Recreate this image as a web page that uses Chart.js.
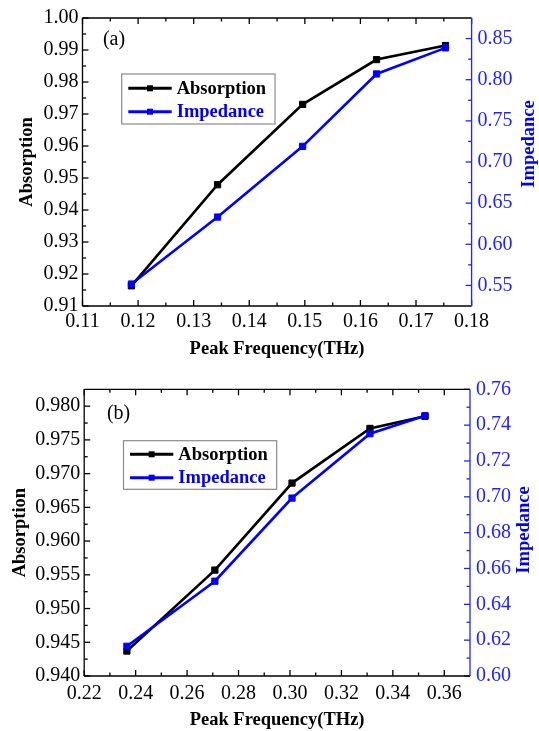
<!DOCTYPE html>
<html>
<head>
<meta charset="utf-8">
<script src="https://cdn.jsdelivr.net/npm/chart.js@4/dist/chart.umd.min.js"></script>
<style>
  html, body { margin: 0; padding: 0; background: #fff; }
  #wrap { position: relative; width: 539px; height: 731px; }
  .panel { position: absolute; left: 0; width: 539px; }
</style>
</head>
<body>
<div id="wrap">
  <div class="panel" style="top:0;height:366px"><canvas id="chartA"></canvas></div>
  <div class="panel" style="top:366px;height:365px"><canvas id="chartB"></canvas></div>
</div>
<script>
// ---- Panel (a) ----
const freqA       = [0.1188, 0.1343, 0.1496, 0.1629, 0.1753];
const absorptionA = [0.9163, 0.9479, 0.9730, 0.9870, 0.9914];
const impedanceA  = [0.5517, 0.6331, 0.7190, 0.8070, 0.8387];
const xTicksA     = [0.11, 0.12, 0.13, 0.14, 0.15, 0.16, 0.17, 0.18];
const absTicksA   = [0.91, 0.92, 0.93, 0.94, 0.95, 0.96, 0.97, 0.98, 0.99, 1.00];
const impTicksA   = [0.55, 0.60, 0.65, 0.70, 0.75, 0.80, 0.85];

// ---- Panel (b) ----
const freqB       = [0.2366, 0.2708, 0.3008, 0.3311, 0.3525];
const absorptionB = [0.9437, 0.9557, 0.9686, 0.9767, 0.9785];
const impedanceB  = [0.6166, 0.6529, 0.6993, 0.7352, 0.7453];
const xTicksB     = [0.22, 0.24, 0.26, 0.28, 0.30, 0.32, 0.34, 0.36];
const absTicksB   = [0.940, 0.945, 0.950, 0.955, 0.960, 0.965, 0.970, 0.975, 0.980];
const impTicksB   = [0.60, 0.62, 0.64, 0.66, 0.68, 0.70, 0.72, 0.74, 0.76];

const SERIF = "'Liberation Serif', 'Times New Roman', Times, serif";
const BLACK = '#000000';
const BLUE = '#0000ff';
const BLUE_AXIS = '#2323ff';

// midpoints between consecutive major ticks -> minor tick marks
function midpoints(arr) {
  const out = [];
  for (let i = 0; i < arr.length - 1; i++) out.push((arr[i] + arr[i + 1]) / 2);
  return out;
}

// plot frame with inward major/minor tick marks on all four sides
const frameTicks = {
  id: 'frameTicks',
  afterDatasetsDraw(chart) {
    const { ctx, chartArea: a, scales } = chart;
    const MAJ = 6, MIN = 3.5;
    ctx.save();
    ctx.lineWidth = 1.3;
    const seg = (x1, y1, x2, y2, c) => {
      ctx.strokeStyle = c; ctx.beginPath(); ctx.moveTo(x1, y1); ctx.lineTo(x2, y2); ctx.stroke();
    };
    const xs = scales.x, yl = scales.y, yr = scales.y1;
    const xMaj = xs.options.majorList, xMin = midpoints(xMaj);
    xMaj.forEach(v => { const p = xs.getPixelForValue(v); seg(p, a.bottom, p, a.bottom - MAJ, BLACK); seg(p, a.top, p, a.top + MAJ, BLACK); });
    xMin.forEach(v => { const p = xs.getPixelForValue(v); seg(p, a.bottom, p, a.bottom - MIN, BLACK); seg(p, a.top, p, a.top + MIN, BLACK); });
    const lMaj = yl.options.majorList, lMin = midpoints(lMaj);
    lMaj.forEach(v => { const p = yl.getPixelForValue(v); seg(a.left, p, a.left + MAJ, p, BLACK); });
    lMin.forEach(v => { const p = yl.getPixelForValue(v); seg(a.left, p, a.left + MIN, p, BLACK); });
    const rMaj = yr.options.majorList, rMin = midpoints(rMaj);
    rMaj.forEach(v => { const p = yr.getPixelForValue(v); seg(a.right, p, a.right - MAJ, p, BLUE_AXIS); });
    rMin.forEach(v => { const p = yr.getPixelForValue(v); seg(a.right, p, a.right - MIN, p, BLUE_AXIS); });
    // frame
    seg(a.left, a.top, a.right, a.top, BLACK);
    seg(a.left, a.bottom, a.right, a.bottom, BLACK);
    seg(a.left, a.top, a.left, a.bottom, BLACK);
    seg(a.right, a.top, a.right, a.bottom, BLUE_AXIS);
    ctx.restore();
  }
};

// boxed legend, panel tag and right-hand axis title
const annotations = {
  id: 'annotations',
  afterDraw(chart, args, o) {
    const ctx = chart.ctx;
    ctx.save();
    // legend box
    const L = o.legend;
    ctx.fillStyle = '#fff';
    ctx.fillRect(L.x, L.y, L.w, L.h);
    ctx.strokeStyle = '#8a8a8a';
    ctx.lineWidth = 1.2;
    ctx.strokeRect(L.x, L.y, L.w, L.h);
    chart.data.datasets.forEach((ds, i) => {
      const cy = L.rowY[i];
      ctx.strokeStyle = ds.borderColor;
      ctx.lineWidth = 3;
      ctx.beginPath(); ctx.moveTo(L.lineX0, cy); ctx.lineTo(L.lineX1, cy); ctx.stroke();
      const mx = (L.lineX0 + L.lineX1) / 2;
      ctx.fillStyle = ds.borderColor;
      ctx.fillRect(mx - 3, cy - 3, 6, 6);
      ctx.font = `bold 18.5px ${SERIF}`;
      ctx.textAlign = 'left';
      ctx.textBaseline = 'middle';
      ctx.fillText(ds.label, L.textX, cy + 1);
    });
    // panel tag
    ctx.fillStyle = BLACK;
    ctx.font = `20px ${SERIF}`;
    ctx.textAlign = 'center';
    ctx.textBaseline = 'middle';
    ctx.fillText(o.tag.text, o.tag.x, o.tag.y);
    // right axis title, reading upward
    ctx.translate(o.rightTitle.x, o.rightTitle.y);
    ctx.rotate(-Math.PI / 2);
    ctx.fillStyle = BLUE;
    ctx.font = `bold 18.5px ${SERIF}`;
    ctx.fillText(o.rightTitle.text, 0, 0);
    ctx.restore();
  }
};

function makePanel(id, d) {
  const fixTicks = list => scale => { scale.ticks = list.map(v => ({ value: v })); };
  const tickFont = { family: SERIF, size: 20 };
  const titleFont = { family: SERIF, size: 18.5, weight: 'bold' };
  return new Chart(document.getElementById(id), {
    type: 'line',
    data: {
      datasets: [
        {
          label: 'Absorption',
          data: d.freq.map((f, i) => ({ x: f, y: d.abs[i] })),
          yAxisID: 'y',
          borderColor: BLACK, backgroundColor: BLACK,
          pointBackgroundColor: BLACK, pointBorderColor: BLACK,
          borderWidth: 2.6, pointStyle: 'rect', pointRadius: 4.4, pointBorderWidth: 1,
          tension: 0, order: 1
        },
        {
          label: 'Impedance',
          data: d.freq.map((f, i) => ({ x: f, y: d.imp[i] })),
          yAxisID: 'y1',
          borderColor: BLUE, backgroundColor: BLUE,
          pointBackgroundColor: BLUE, pointBorderColor: BLUE,
          borderWidth: 2.6, pointStyle: 'rect', pointRadius: 4.4, pointBorderWidth: 1,
          tension: 0, order: 0
        }
      ]
    },
    options: {
      responsive: true,
      maintainAspectRatio: false,
      animation: false,
      layout: { padding: { top: d.padTop, bottom: d.padBottom, left: 0, right: 0 } },
      plugins: {
        legend: { display: false },
        tooltip: { enabled: false },
        annotations: { legend: d.legend, tag: d.tag, rightTitle: d.rightTitle }
      },
      scales: {
        x: {
          type: 'linear', position: 'bottom',
          min: d.xTicks[0], max: d.xMax, majorList: d.xTicks,
          afterBuildTicks: fixTicks(d.xTicks),
          afterFit: s => { s.height = d.xHeight; },
          grid: { display: false, drawTicks: false }, border: { display: false },
          ticks: { font: tickFont, color: BLACK, padding: d.xTickPad, maxRotation: 0, autoSkip: false,
                   callback: v => v.toFixed(2) },
          title: { display: true, text: 'Peak Frequency(THz)', font: titleFont, color: BLACK, padding: { top: 0, bottom: 0 } }
        },
        y: {
          type: 'linear', position: 'left',
          min: d.absTicks[0], max: d.absMax, majorList: d.absTicks,
          afterBuildTicks: fixTicks(d.absTicks),
          afterFit: s => { s.width = d.leftW; },
          grid: { display: false, drawTicks: false }, border: { display: false },
          ticks: { font: tickFont, color: BLACK, padding: 4, callback: v => v.toFixed(d.absDigits) },
          title: { display: true, text: 'Absorption', font: titleFont, color: BLACK, padding: { top: d.leftTitlePad, bottom: 0 } }
        },
        y1: {
          type: 'linear', position: 'right',
          min: d.impMin, max: d.impMax, majorList: d.impTicks,
          afterBuildTicks: fixTicks(d.impTicks),
          afterFit: s => { s.width = d.rightW; },
          grid: { display: false, drawTicks: false }, border: { display: false },
          ticks: { font: tickFont, color: BLUE_AXIS, padding: 6, callback: v => v.toFixed(2) },
          title: { display: false }
        }
      }
    },
    plugins: [frameTicks, annotations]
  });
}

makePanel('chartA', {
  freq: freqA, abs: absorptionA, imp: impedanceA,
  xTicks: xTicksA, xMax: 0.18,
  absTicks: absTicksA, absMax: 1.00, absDigits: 2,
  impTicks: impTicksA, impMin: 0.525, impMax: 0.875,
  padTop: 16, padBottom: 6, xHeight: 54, xTickPad: 4, leftW: 82.5, rightW: 67.4, leftTitlePad: 16.4,
  legend: { x: 121.7, y: 74, w: 153.3, h: 50, rowY: [88.3, 111.7], lineX0: 128.3, lineX1: 171.7, textX: 176.7 },
  tag: { text: '(a)', x: 114, y: 40 },
  rightTitle: { text: 'Impedance', x: 529.4, y: 144 }
});

makePanel('chartB', {
  freq: freqB, abs: absorptionB, imp: impedanceB,
  xTicks: xTicksB, xMax: 0.37,
  absTicks: absTicksB, absMax: 0.9825, absDigits: 3,
  impTicks: impTicksB, impMin: 0.60, impMax: 0.76,
  padTop: 23.3, padBottom: 0, xHeight: 55, xTickPad: 6, leftW: 84.2, rightW: 69, leftTitlePad: 9.5,
  legend: { x: 123.5, y: 74.7, w: 153.2, h: 48.6, rowY: [88.3, 111.7], lineX0: 130, lineX1: 173.3, textX: 178.3 },
  tag: { text: '(b)', x: 118.6, y: 47.3 },
  rightTitle: { text: 'Impedance', x: 524, y: 164 }
});
</script>
</body>
</html>
